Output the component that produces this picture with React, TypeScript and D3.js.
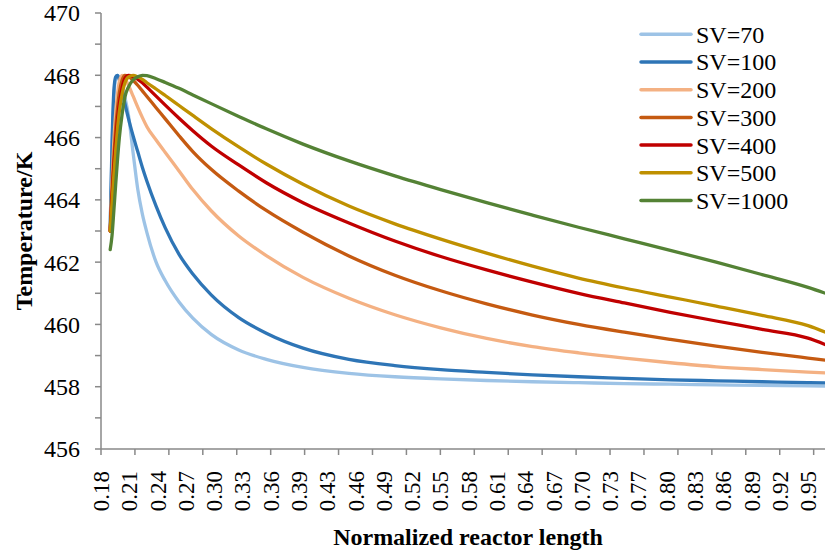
import React from "react";
import * as d3 from "d3";

const X_POS = [0.190, 0.192, 0.194, 0.196, 0.198, 0.200, 0.203, 0.206, 0.210, 0.215, 0.220, 0.225, 0.230, 0.240, 0.250, 0.265, 0.280, 0.300, 0.330, 0.360, 0.400, 0.450, 0.500, 0.550, 0.600, 0.650, 0.700, 0.750, 0.800, 0.850, 0.900, 0.950, 0.970];

const SV70 = [463.0, 465.6, 467.3, 467.9, 468.0, 467.9, 467.65, 467.3, 466.7, 465.5, 464.35, 463.55, 462.95, 462.0, 461.4, 460.72, 460.2, 459.68, 459.18, 458.88, 458.62, 458.43, 458.32, 458.25, 458.2, 458.16, 458.13, 458.1, 458.08, 458.06, 458.04, 458.03, 458.02];
const SV100 = [463.1, 465.8, 467.5, 467.95, 468.0, 467.85, 467.5, 467.1, 466.6, 466.05, 465.55, 465.05, 464.6, 463.8, 463.1, 462.25, 461.62, 460.95, 460.22, 459.72, 459.24, 458.88, 458.68, 458.55, 458.46, 458.38, 458.32, 458.27, 458.22, 458.19, 458.16, 458.13, 458.12];
const SV200 = [463.0, 464.6, 465.9, 466.8, 467.4, 467.8, 468.0, 467.9, 467.67, 467.33, 466.98, 466.65, 466.35, 465.92, 465.52, 464.93, 464.33, 463.65, 462.84, 462.21, 461.51, 460.84, 460.31, 459.89, 459.55, 459.29, 459.09, 458.92, 458.77, 458.64, 458.55, 458.47, 458.44];
const SV300 = [463.0, 464.3, 465.4, 466.3, 466.95, 467.45, 467.85, 468.0, 467.96, 467.84, 467.68, 467.5, 467.32, 466.96, 466.6, 466.06, 465.55, 464.98, 464.28, 463.66, 462.96, 462.2, 461.58, 461.08, 460.66, 460.3, 460.0, 459.75, 459.52, 459.3, 459.1, 458.92, 458.85];
const SV400 = [463.0, 464.1, 465.1, 465.9, 466.6, 467.1, 467.6, 467.9, 468.0, 467.96, 467.87, 467.76, 467.62, 467.33, 467.04, 466.62, 466.22, 465.73, 465.12, 464.55, 463.91, 463.26, 462.68, 462.18, 461.75, 461.36, 461.0, 460.69, 460.39, 460.11, 459.84, 459.56, 459.34];
const SV500 = [463.0, 463.9, 464.8, 465.6, 466.3, 466.85, 467.4, 467.75, 467.95, 468.0, 467.95, 467.87, 467.76, 467.56, 467.35, 467.03, 466.71, 466.29, 465.7, 465.15, 464.5, 463.8, 463.23, 462.74, 462.29, 461.87, 461.49, 461.17, 460.88, 460.59, 460.29, 459.96, 459.74];
const SV1000 = [462.4, 462.85, 463.65, 464.5, 465.3, 466.0, 466.75, 467.3, 467.63, 467.85, 467.95, 468.0, 467.99, 467.89, 467.77, 467.58, 467.37, 467.09, 466.68, 466.28, 465.79, 465.25, 464.77, 464.33, 463.91, 463.51, 463.12, 462.75, 462.38, 462.0, 461.6, 461.19, 460.99];

const SERIES_NAMES = ["SV=70", "SV=100", "SV=200", "SV=300", "SV=400", "SV=500", "SV=1000"];
const SERIES_VALUES = [SV70, SV100, SV200, SV300, SV400, SV500, SV1000];
const SERIES_COLORS = ["#9DC3E6", "#2E75B6", "#F4B183", "#C55A11", "#C00000", "#BF9000", "#548235"];

const X_TICK_LABELS = ["0.18", "0.21", "0.24", "0.27", "0.30", "0.33", "0.36", "0.39", "0.43", "0.46", "0.49", "0.52", "0.55", "0.58", "0.61", "0.64", "0.67", "0.70", "0.73", "0.77", "0.80", "0.83", "0.86", "0.89", "0.92", "0.95"];
const Y_MIN = 456;
const Y_MAX = 470;
const Y_LABEL_STEP = 2;

const FONT = '"Liberation Serif", "Times New Roman", Tinos, "DejaVu Serif", serif';
const AXIS_COLOR = "#898989";

export default function App() {
  const W = 825;
  const H = 554;
  const left = 101;
  const top = 13;
  const bottom = 449;
  const right = 825;

  const labelFirst = 0.18;
  const labelLast = 0.95;
  const x = d3.scaleLinear().domain([labelFirst, labelLast]).range([left, 808]);
  const y = d3.scaleLinear().domain([Y_MIN, Y_MAX]).range([bottom, top]);

  const labelStep = (labelLast - labelFirst) / (X_TICK_LABELS.length - 1);
  const tickStep = labelStep * 1.2;
  const tickVals: number[] = [];
  for (let v = labelFirst; x(v) <= right + 0.5; v += tickStep) tickVals.push(v);

  const yLabels = d3.range(Y_MIN, Y_MAX + 0.001, Y_LABEL_STEP);
  const yMinor = d3.range(Y_MIN, Y_MAX + 0.001, 1);

  const line = d3
    .line<number>()
    .x((_, i) => x(X_POS[i]))
    .y((d) => y(d))
    .curve(d3.curveMonotoneX);

  const txt = { fontFamily: FONT, fill: "#000" };

  return (
    <svg width={W} height={H} style={{ position: "absolute", left: 0, top: 0, background: "#fff" }}>
      <rect x={0} y={0} width={W} height={H} fill="#fff" />
      <line x1={left} x2={left} y1={top} y2={bottom} stroke={AXIS_COLOR} strokeWidth={1.5} />
      {yMinor.map((v) => (
        <line key={"ym" + v} x1={left - 6} x2={left} y1={y(v)} y2={y(v)} stroke={AXIS_COLOR} strokeWidth={1.5} />
      ))}
      {yLabels.map((v) => (
        <text key={"yl" + v} x={80} y={y(v)} dy="0.35em" textAnchor="end" fontSize={24} style={txt}>
          {v}
        </text>
      ))}
      <line x1={left} x2={right} y1={bottom} y2={bottom} stroke={AXIS_COLOR} strokeWidth={1.5} />
      {tickVals.map((v, i) => (
        <line key={"xt" + i} x1={x(v)} x2={x(v)} y1={bottom} y2={bottom + 6} stroke={AXIS_COLOR} strokeWidth={1.5} />
      ))}
      {X_TICK_LABELS.map((lab, i) => {
        const px = x(labelFirst + i * labelStep);
        return (
          <text
            key={"xl" + i}
            transform={`translate(${px},471) rotate(-90)`}
            dy="0.35em"
            textAnchor="end"
            fontSize={23}
            style={txt}
          >
            {lab}
          </text>
        );
      })}
      {SERIES_VALUES.map((vals, i) => (
        <path
          key={"s" + i}
          d={line(vals) || ""}
          fill="none"
          stroke={SERIES_COLORS[i]}
          strokeWidth={3.3}
          strokeLinejoin="round"
          strokeLinecap="round"
        />
      ))}
      {SERIES_NAMES.map((name, i) => {
        const cy = 34.3 + i * 27.7;
        return (
          <g key={"lg" + i}>
            <line x1={641} x2={691} y1={cy} y2={cy} stroke={SERIES_COLORS[i]} strokeWidth={3.5} strokeLinecap="round" />
            <text x={696} y={cy} dy="0.35em" fontSize={24} style={txt}>
              {name}
            </text>
          </g>
        );
      })}
      <text x={468} y={545} textAnchor="middle" fontSize={24} fontWeight="bold" style={txt}>
        Normalized reactor length
      </text>
      <text
        transform={`translate(31.5,${(top + bottom) / 2}) rotate(-90)`}
        textAnchor="middle"
        fontSize={24}
        fontWeight="bold"
        style={txt}
      >
        Temperature/K
      </text>
    </svg>
  );
}
